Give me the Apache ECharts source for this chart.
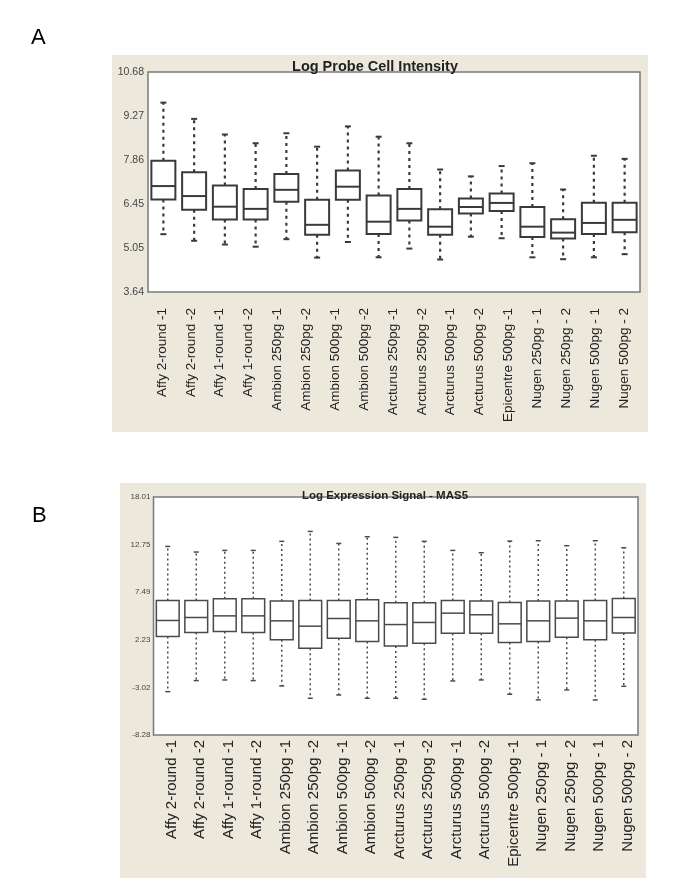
<!DOCTYPE html>
<html><head><meta charset="utf-8">
<script src="https://cdn.jsdelivr.net/npm/echarts@6/dist/echarts.min.js"></script>
<style>html,body{margin:0;padding:0;background:#fff}#c{width:685px;height:896px}</style>
</head><body><div id="c"></div>
<script>
// ---- data ----
const sampleLabels = ['Affy 2-round -1','Affy 2-round -2','Affy 1-round -1','Affy 1-round -2',
  'Ambion 250pg -1','Ambion 250pg -2','Ambion 500pg -1','Ambion 500pg -2',
  'Arcturus 250pg -1','Arcturus 250pg -2','Arcturus 500pg -1','Arcturus 500pg -2',
  'Epicentre 500pg -1','Nugen 250pg - 1','Nugen 250pg - 2','Nugen 500pg - 1','Nugen 500pg - 2'];

// Panel A: Log Probe Cell Intensity (16 boxes drawn)
const aMax = [9.70,9.18,8.68,8.40,8.72,8.29,8.94,8.61,8.40,7.56,7.34,7.67,7.76,6.92,8.00,7.90];
const aQ3  = [7.84,7.47,7.05,6.94,7.42,6.59,7.53,6.73,6.94,6.29,6.63,6.79,6.36,5.97,6.50,6.50];
const aMed = [7.03,6.71,6.37,6.30,6.91,5.79,7.01,5.89,6.30,5.73,6.36,6.49,5.73,5.54,5.85,5.95];
const aQ1  = [6.60,6.27,5.96,5.96,6.53,5.47,6.59,5.50,5.93,5.47,6.15,6.23,5.40,5.35,5.50,5.55];
const aMin = [5.49,5.28,5.16,5.09,5.33,4.74,5.24,4.75,5.03,4.68,5.41,5.36,4.75,4.69,4.75,4.85];
const aTicks = ['3.64','5.05','6.45','7.86','9.27','10.68'];

// Panel B: Log Expression Signal - MAS5 (17 boxes)
const bMax = [12.55,11.93,12.11,12.11,13.11,14.21,12.88,13.62,13.55,13.11,12.11,11.85,13.14,13.18,12.63,13.18,12.40];
const bQ3  = [6.58,6.58,6.76,6.76,6.51,6.58,6.58,6.65,6.32,6.32,6.58,6.51,6.36,6.51,6.51,6.58,6.80];
const bMed = [4.37,4.70,4.88,4.88,4.33,3.74,4.59,4.33,3.92,4.15,5.18,5.00,4.00,4.33,4.63,4.33,4.70];
const bQ1  = [2.60,3.04,3.15,3.04,2.23,1.31,2.41,2.04,1.56,1.86,2.97,2.97,1.93,2.04,2.52,2.23,3.00];
const bMin = [-3.49,-2.27,-2.20,-2.27,-2.86,-4.22,-3.86,-4.22,-4.22,-4.33,-2.31,-2.20,-3.78,-4.40,-3.30,-4.41,-2.90];
const bTicks = ['-8.28','-3.02','2.23','7.49','12.75','18.01'];

// ---- build ----
const aData = aMax.map((_, i) => [i, aMin[i], aQ1[i], aMed[i], aQ3[i], aMax[i]]);
const bData = bMax.map((_, i) => [i, bMin[i], bQ1[i], bMed[i], bQ3[i], bMax[i]]);
const aSlots = aMax.map((_, i) => String(i));
const bSlots = bMax.map((_, i) => String(i));

function renderer(cfg) {
  return function (params, api) {
    const i = api.value(0);
    const pMin = api.coord([i, api.value(1)]);
    const pQ1 = api.coord([i, api.value(2)]);
    const pMed = api.coord([i, api.value(3)]);
    const pQ3 = api.coord([i, api.value(4)]);
    const pMax = api.coord([i, api.value(5)]);
    const band = api.size([1, 0])[0];
    const bw = band * cfg.ratio;
    const x = pMed[0];
    const wStyle = { stroke: cfg.whisker, lineWidth: cfg.wWidth, lineDash: cfg.dash };
    const cStyle = { stroke: cfg.whisker, lineWidth: cfg.capWidth };
    const bStyle = { stroke: cfg.stroke, lineWidth: cfg.lw, fill: '#fff' };
    return {
      type: 'group',
      children: [
        { type: 'line', shape: { x1: x, y1: pQ3[1], x2: x, y2: pMax[1] }, style: wStyle },
        { type: 'line', shape: { x1: x, y1: pQ1[1], x2: x, y2: pMin[1] }, style: wStyle },
        { type: 'line', shape: { x1: x - cfg.cap, y1: pMax[1], x2: x + cfg.cap, y2: pMax[1] }, style: cStyle },
        { type: 'line', shape: { x1: x - cfg.cap, y1: pMin[1], x2: x + cfg.cap, y2: pMin[1] }, style: cStyle },
        { type: 'rect', shape: { x: x - bw / 2, y: pQ3[1], width: bw, height: pQ1[1] - pQ3[1] }, style: bStyle },
        { type: 'line', shape: { x1: x - bw / 2, y1: pMed[1], x2: x + bw / 2, y2: pMed[1] }, style: { stroke: cfg.stroke, lineWidth: cfg.lw } }
      ]
    };
  };
}

function tickFmt(ticks, min, interval) {
  return function (v) {
    const k = Math.round((v - min) / interval);
    return ticks[k] !== undefined ? ticks[k] : '';
  };
}

const chart = echarts.init(document.getElementById('c'), null, { renderer: 'canvas' });
const beige = '#ECE9DC';
const aMinV = 3.64, aMaxV = 10.68, aInt = (10.68 - 3.64) / 5;
const bMinV = -8.28, bMaxV = 18.01, bInt = (18.01 + 8.28) / 5;

chart.setOption({
  backgroundColor: '#fff',
  animation: false,
  graphic: [
    { type: 'rect', left: 112, top: 55, shape: { width: 536, height: 377 }, style: { fill: beige }, z: -10 },
    { type: 'rect', left: 120, top: 483, shape: { width: 526, height: 395 }, style: { fill: beige }, z: -10 },
    { type: 'text', left: 31, top: 27, style: { text: 'A', font: '22px Arial, Liberation Sans, sans-serif', fill: '#000' } },
    { type: 'text', left: 32, top: 505, style: { text: 'B', font: '22px Arial, Liberation Sans, sans-serif', fill: '#000' } }
  ],
  title: [
    { text: 'Log Probe Cell Intensity', left: 370, top: 54, textAlign: 'center',
      textStyle: { fontFamily: 'Arial, Liberation Sans', fontWeight: 'bold', fontSize: 14.5, color: '#222' } },
    { text: 'Log Expression Signal - MAS5', left: 380, top: 485, textAlign: 'center',
      textStyle: { fontFamily: 'Arial, Liberation Sans', fontWeight: 'bold', fontSize: 11.5, color: '#222' } }
  ],
  grid: [
    { left: 148, top: 72, width: 492, height: 220, show: true, backgroundColor: '#fff', borderColor: '#7a7a7a', borderWidth: 1.5 },
    { left: 147.5, top: 72, width: 491, height: 220, show: false },
    { left: 153.5, top: 497, width: 484.5, height: 238, show: true, backgroundColor: '#fff', borderColor: '#7a7a7a', borderWidth: 1.5 },
    { left: 157.5, top: 497, width: 484.5, height: 238, show: false }
  ],
  xAxis: [
    { gridIndex: 0, type: 'category', data: aSlots, axisLine: { show: false }, axisTick: { show: false }, axisLabel: { show: false } },
    { gridIndex: 1, type: 'category', data: sampleLabels, axisLine: { show: false }, axisTick: { show: false },
      axisLabel: { rotate: 90, margin: 16, interval: 0, fontFamily: 'Arial, Liberation Sans', fontSize: 13.5, color: '#222' } },
    { gridIndex: 2, type: 'category', data: bSlots, axisLine: { show: false }, axisTick: { show: false }, axisLabel: { show: false } },
    { gridIndex: 3, type: 'category', data: sampleLabels, axisLine: { show: false }, axisTick: { show: false },
      axisLabel: { rotate: 90, margin: 5, interval: 0, fontFamily: 'Arial, Liberation Sans', fontSize: 15, color: '#222' } }
  ],
  yAxis: [
    { gridIndex: 0, type: 'value', min: aMinV, max: aMaxV, interval: aInt, splitLine: { show: false },
      axisLine: { show: false }, axisTick: { show: false },
      axisLabel: { margin: 4, fontFamily: 'Arial, Liberation Sans', fontSize: 10.5, color: '#444', formatter: tickFmt(aTicks, aMinV, aInt) } },
    { gridIndex: 1, type: 'value', min: aMinV, max: aMaxV, show: false },
    { gridIndex: 2, type: 'value', min: bMinV, max: bMaxV, interval: bInt, splitLine: { show: false },
      axisLine: { show: false }, axisTick: { show: false },
      axisLabel: { margin: 3, fontFamily: 'Arial, Liberation Sans', fontSize: 8, color: '#444', formatter: tickFmt(bTicks, bMinV, bInt) } },
    { gridIndex: 3, type: 'value', min: bMinV, max: bMaxV, show: false }
  ],
  series: [
    { type: 'custom', xAxisIndex: 0, yAxisIndex: 0, data: aData, encode: { x: 0, y: [1, 2, 3, 4, 5] },
      renderItem: renderer({ ratio: 0.78, stroke: '#3a3a3a', lw: 2, whisker: '#3a3a3a', wWidth: 2.2, dash: [3, 4], cap: 3, capWidth: 2 }) },
    { type: 'custom', xAxisIndex: 2, yAxisIndex: 2, data: bData, encode: { x: 0, y: [1, 2, 3, 4, 5] },
      renderItem: renderer({ ratio: 0.8, stroke: '#4a4a4a', lw: 1.5, whisker: '#4a4a4a', wWidth: 1.5, dash: [2, 3], cap: 2.5, capWidth: 1.5 }) }
  ]
});
</script></body></html>
